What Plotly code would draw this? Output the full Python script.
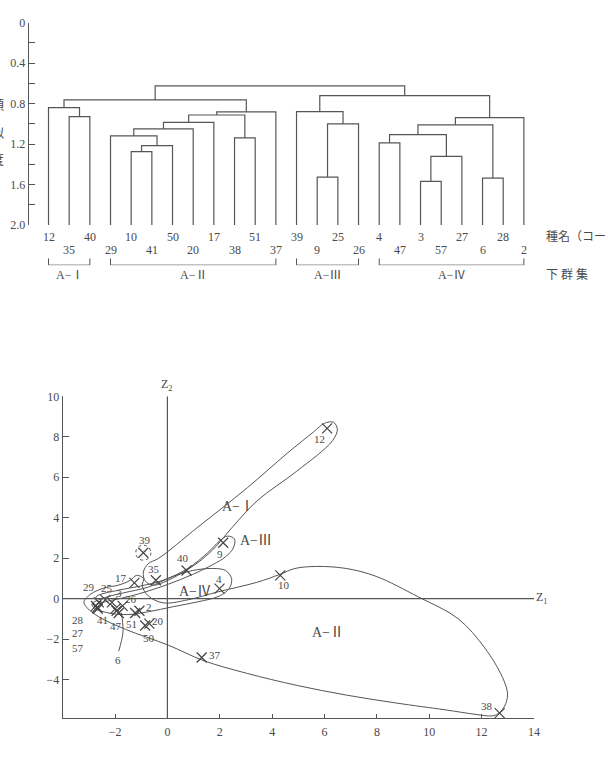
import plotly.graph_objects as go

# ---------------- Dendrogram data ----------------
leaf_codes = ["12", "35", "40", "29", "10", "41", "50", "20", "17", "38", "51", "37",
              "39", "9", "25", "26", "4", "47", "3", "57", "27", "6", "28", "2"]
# linkage: node ids 0..23 are leaves, 24+k is merge k
merge_left = [1, 0, 4, 26, 3, 28, 29, 9, 30, 32, 25, 13, 35, 12, 16, 18, 39, 38, 21, 41, 43, 37, 34]
merge_right = [2, 24, 5, 6, 27, 7, 8, 10, 31, 11, 33, 14, 15, 36, 17, 19, 20, 40, 22, 42, 23, 44, 45]
merge_height = [0.93, 0.84, 1.275, 1.215, 1.12, 1.05, 0.985, 1.14, 0.913, 0.883, 0.764,
                1.527, 1.0, 0.88, 1.188, 1.57, 1.323, 1.107, 1.537, 1.01, 0.939, 0.722, 0.625]
leaf_height = 2.0
dendro_ticks = [0, 0.4, 0.8, 1.2, 1.6, 2.0]
dendro_ticktext = ["0", "0.4", "0.8", "1.2", "1.6", "2.0"]
dendro_minor = [0.2, 0.6, 1.0, 1.4, 1.8]
group_names = ["A−Ⅰ", "A−Ⅱ", "A−Ⅲ", "A−Ⅳ"]
group_first_leaf = [0, 3, 12, 16]
group_last_leaf = [2, 11, 15, 23]

# ---------------- Scatter data ----------------
pt_codes = ["12", "40", "9", "4", "10", "39", "35", "17", "29", "25", "3", "26", "2",
            "28", "27", "57", "41", "47", "6", "51", "20", "50", "37", "38"]
pt_z1 = [6.10, 0.73, 2.13, 1.99, 4.31, -0.92, -0.44, -1.26, -2.62, -2.37, -2.12, -1.71, -1.07,
         -2.68, -2.73, -2.66, -1.99, -1.86, -1.94, -1.23, -0.69, -0.85, 1.31, 12.69]
pt_z2 = [8.42, 1.39, 2.76, 0.49, 1.15, 2.27, 0.91, 0.78, -0.19, -0.06, -0.19, -0.36, -0.60,
         -0.44, -0.36, -0.50, -0.51, -0.71, -0.60, -0.71, -1.24, -1.33, -2.91, -5.66]
z1_ticks = [-2, 0, 2, 4, 6, 8, 10, 12, 14]
z2_ticks = [-4, -2, 0, 2, 4, 6, 8, 10]

# hand-drawn group outlines (Z1, Z2)
outline_AI_x = [-0.35, 1.16, 3.05, 4.56, 5.58, 6.00, 6.34, 6.49, 6.30, 4.94, 3.43, 2.48, 1.73, 1.16,
                0.71, 0.03, -0.54, -0.84, -0.92, -0.73, -0.35]
outline_AI_y = [1.98, 3.53, 5.48, 7.17, 8.24, 8.67, 8.72, 8.38, 7.80, 6.30, 4.84, 3.53, 2.41, 1.78,
                1.39, 0.91, 0.66, 0.86, 1.30, 1.73, 1.98]
outline_AIII_x = [-2.73, -1.86, -1.03, -0.16, 0.78, 1.54, 1.99, 2.29, 2.56, 2.52, 2.22, 1.73, 0.97,
                  0.03, -1.11, -2.05, -2.62, -2.73]
outline_AIII_y = [0.08, 0.42, 0.62, 0.91, 1.49, 2.27, 2.85, 3.09, 2.95, 2.51, 2.07, 1.68, 1.20,
                  0.71, 0.23, -0.06, -0.16, 0.08]
outline_AIV_x = [-2.88, -2.43, -1.69, -0.73, 0.22, 0.97, 1.73, 2.22, 2.45, 2.37, 1.99, 1.16, 0.22,
                 -0.73, -1.56, -2.32, -2.81, -2.88]
outline_AIV_y = [-0.26, 0.03, 0.28, 0.57, 1.10, 1.39, 1.49, 1.39, 1.00, 0.52, 0.13, -0.16, -0.40,
                 -0.65, -0.79, -0.69, -0.45, -0.26]
outline_AII_x = [-3.19, -2.92, -2.43, -1.86, -1.41, -1.18, -0.92, -0.96, -0.73, -0.16, 0.78, 1.92,
                 3.43, 4.30, 4.87, 5.70, 6.83, 7.97, 9.59, 11.10, 12.12, 12.80, 12.99, 12.88, 12.62,
                 12.39, 11.75, 10.61, 8.72, 6.83, 4.94, 3.05, 1.39, 0.03, -1.60, -2.62, -3.07, -3.19]
outline_AII_y = [-0.16, 0.23, 0.52, 0.67, 0.91, 1.15, 1.00, 0.62, 0.13, -0.21, -0.06, 0.33,
                 0.81, 1.20, 1.49, 1.59, 1.49, 1.10, 0.08, -0.99, -2.44, -3.90, -4.72, -5.31, -5.70,
                 -5.80, -5.72, -5.50, -5.16, -4.77, -4.29, -3.70, -3.07, -2.30, -1.52, -0.90, -0.45, -0.16]
leader6_x = [-1.86, -1.70, -1.72, -1.76]
leader6_y = [-2.60, -1.70, -1.05, -0.70]

group_label_text = ["A−Ⅰ", "A−Ⅱ", "A−Ⅲ", "A−Ⅳ"]
group_label_z1 = [2.68, 6.12, 3.40, 1.05]
group_label_z2 = [4.55, -1.67, 2.85, 0.37]

# ---------------- styling ----------------
LINE = "#555555"
TXT = "#4a4a4a"
FONT = "Liberation Serif, Noto Sans CJK JP, serif"
W, H = 608, 758
D_X0, D_X1 = 29 / W, 1.0
D_RANGE = [-0.958, 26.78]

# label offsets (pixels) for point labels
label_shift = {
    "12": (-8, -11), "40": (-4, 12), "9": (-3, -11), "4": (-1, 10), "10": (4, -10),
    "39": (2, 13), "35": (-2, 11), "17": (-13, 5), "29": (-10, 15), "25": (2, 12),
    "3": (7, 9), "26": (8, 7), "2": (10, 4), "28": (-19, -12), "27": (-18, -27),
    "57": (-20, -39), "41": (-13, -11), "47": (-3, -13), "6": (1, -49), "51": (-4, -11),
    "20": (9, 3), "50": (4, -12), "37": (13, 2), "38": (-13, 7),
}

fig = go.Figure()

# ---- dendrogram lines ----
n = len(leaf_codes)
node_x = list(range(n))
node_h = [leaf_height] * n
dx, dy = [], []
for a, b, h in zip(merge_left, merge_right, merge_height):
    xa, ha = node_x[a], node_h[a]
    xb, hb = node_x[b], node_h[b]
    dx += [xa, xa, xb, xb, None]
    dy += [ha, h, h, hb, None]
    node_x.append((xa + xb) / 2)
    node_h.append(h)

fig.add_trace(go.Scatter(x=dx, y=dy, mode="lines", line=dict(color=LINE, width=1.2),
                         xaxis="x", yaxis="y", hoverinfo="skip", showlegend=False))

# leaf labels (two staggered rows)
for i, code in enumerate(leaf_codes):
    fig.add_annotation(x=i, y=1 - (234 if i % 2 == 0 else 248) / H, xref="x", yref="paper",
                       text=code, showarrow=False, yanchor="middle",
                       font=dict(family=FONT, size=12, color=TXT))

# group brackets
for name, f, l in zip(group_names, group_first_leaf, group_last_leaf):
    fig.add_trace(go.Scatter(x=[f, f, l, l], y=[1, 0, 0, 1], mode="lines",
                             line=dict(color=LINE, width=1), xaxis="x3", yaxis="y3",
                             hoverinfo="skip", showlegend=False))
    fig.add_annotation(x=(f + l) / 2, y=1 - 273 / H, xref="x3", yref="paper", text=name,
                       showarrow=False, yanchor="middle",
                       font=dict(family=FONT, size=12, color=TXT))

fig.add_annotation(x=549 / W, y=1 - 234 / H, xref="paper", yref="paper", text="種名（コード）",
                   xanchor="left", yanchor="middle", showarrow=False,
                   font=dict(family=FONT, size=12, color=TXT))
fig.add_annotation(x=549 / W, y=1 - 273 / H, xref="paper", yref="paper", text="下 群 集",
                   xanchor="left", yanchor="middle", showarrow=False,
                   font=dict(family=FONT, size=12, color=TXT))
for ch, yy in zip(["類", "似", "度"], [90, 118, 146]):
    fig.add_annotation(x=-3 / W, y=1 - yy / H, xref="paper", yref="paper", text=ch,
                       showarrow=False, xanchor="center",
                       font=dict(family=FONT, size=13, color=TXT))

# ---- scatter ----
outlines = [(outline_AI_x, outline_AI_y), (outline_AIII_x, outline_AIII_y),
            (outline_AIV_x, outline_AIV_y), (outline_AII_x, outline_AII_y),
            (leader6_x, leader6_y)]
for ox, oy in outlines:
    fig.add_trace(go.Scatter(x=ox, y=oy, mode="lines",
                             line=dict(color=LINE, width=1, shape="spline", smoothing=1.0),
                             xaxis="x2", yaxis="y2", hoverinfo="skip", showlegend=False))

fig.add_trace(go.Scatter(x=pt_z1, y=pt_z2, mode="markers",
                         marker=dict(symbol="x-thin", size=10, line=dict(color="#444444", width=1.2)),
                         xaxis="x2", yaxis="y2", hoverinfo="skip", showlegend=False))

for code, zx, zy in zip(pt_codes, pt_z1, pt_z2):
    sx, sy = label_shift[code]
    fig.add_annotation(x=zx, y=zy, xref="x2", yref="y2", text=code, showarrow=False,
                       xshift=sx, yshift=sy, font=dict(family=FONT, size=11, color=TXT))

for t, gx, gy in zip(group_label_text, group_label_z1, group_label_z2):
    fig.add_annotation(x=gx, y=gy, xref="x2", yref="y2", text=t, showarrow=False,
                       font=dict(family=FONT, size=14, color=TXT))

# dashed circle around 39
i39 = pt_codes.index("39")
fig.add_shape(type="circle", xref="x2", yref="y2",
              x0=pt_z1[i39] - 0.29, x1=pt_z1[i39] + 0.29,
              y0=pt_z2[i39] - 0.37, y1=pt_z2[i39] + 0.37,
              line=dict(color=LINE, width=1, dash="dot"))

# Z1 / Z2 axes lines
fig.add_shape(type="line", xref="x2", yref="y2", x0=-4, x1=14.08, y0=0, y1=0,
              line=dict(color=LINE, width=1.2))
fig.add_shape(type="line", xref="x2", yref="y2", x0=0, x1=0, y0=-5.9, y1=10,
              line=dict(color=LINE, width=1.2))
fig.add_annotation(x=555 / W, y=1 - 602 / H, xref="paper", yref="paper", text="Z<sub>1</sub>",
                   showarrow=False, yanchor="middle",
                   font=dict(family=FONT, size=12, color=TXT))
fig.add_annotation(x=0, y=10, xref="x2", yref="y2", yshift=11, text="Z<sub>2</sub>",
                   showarrow=False, font=dict(family=FONT, size=12, color=TXT))

axis_common = dict(showgrid=False, zeroline=False, linecolor=LINE, linewidth=1.2,
                   tickcolor=LINE, tickfont=dict(family=FONT, size=12, color=TXT))

fig.update_layout(
    width=W, height=H, margin=dict(l=0, r=0, t=0, b=0),
    paper_bgcolor="white", plot_bgcolor="white",
    xaxis=dict(domain=[D_X0, D_X1], range=D_RANGE, visible=False, anchor="y"),
    yaxis=dict(domain=[1 - 222 / H, 1 - 16 / H], range=[2.0, 0], anchor="x",
               showline=True, ticks="inside", ticklen=6, tickwidth=1.2,
               tickvals=dendro_ticks, ticktext=dendro_ticktext,
               minor=dict(tickvals=dendro_minor, ticks="inside", ticklen=6, tickcolor=LINE),
               **axis_common),
    xaxis3=dict(domain=[D_X0, D_X1], range=D_RANGE, visible=False, anchor="y3"),
    yaxis3=dict(domain=[1 - 263 / H, 1 - 256 / H], range=[0, 1], visible=False, anchor="x3"),
    xaxis2=dict(domain=[63.3 / W, 539.3 / W], range=[-4, 14], anchor="y2",
                showline=True, ticks="inside", ticklen=4, tickwidth=1.2, tickvals=z1_ticks,
                ticklabelstandoff=3, **axis_common),
    yaxis2=dict(domain=[1 - 724.3 / H, 1 - 396.7 / H], range=[-5.9, 10], anchor="x2",
                showline=True, ticks="inside", ticklen=6, tickwidth=1.2, tickvals=z2_ticks,
                **axis_common),
)

fig.write_html("out.html")
